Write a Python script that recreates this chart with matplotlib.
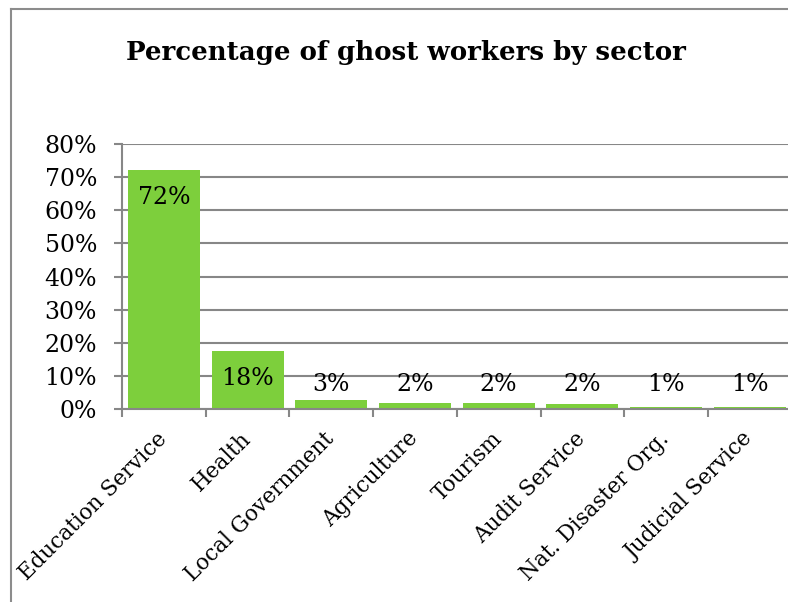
import matplotlib
matplotlib.use("Agg")
import matplotlib.pyplot as plt
from matplotlib.lines import Line2D
from matplotlib.ticker import MultipleLocator, FuncFormatter

categories = ["Education Service", "Health", "Local Government", "Agriculture",
              "Tourism", "Audit Service", "Nat. Disaster Org.", "Judicial Service"]
values = [72.2, 17.6, 2.8, 1.7, 1.7, 1.6, 0.6, 0.6]
labels = ["72%", "18%", "3%", "2%", "2%", "2%", "1%", "1%"]
title = "Percentage of ghost workers by sector"

FONT = "DejaVu Serif"
plt.rcParams["font.family"] = FONT

W, H = 788, 602
fig = plt.figure(figsize=(W / 100, H / 100), dpi=100)
ax = fig.add_axes([122 / W, 1 - 409 / H, (791.6 - 122) / W, (409 - 144) / H])

grey = "#878787"
green = "#7DCF3C"
x = list(range(len(categories)))
ax.bar(x, values, width=0.86, color=green, zorder=3)
ax.set_xlim(-0.5, len(categories) - 0.5)
ax.set_ylim(0, 80)
ax.yaxis.set_major_locator(MultipleLocator(10))
ax.yaxis.set_major_formatter(FuncFormatter(lambda v, p: f"{v:.0f}%"))
ax.grid(axis="y", color=grey, linewidth=1.5, zorder=0)
for s in ["top", "right"]:
    ax.spines[s].set_visible(False)
for s in ["left", "bottom"]:
    ax.spines[s].set_color(grey)
    ax.spines[s].set_linewidth(1.5)
    ax.spines[s].set_zorder(4)

ax.set_xticks([i - 0.5 for i in range(len(categories) + 1)], minor=False)
ax.set_xticklabels([])
ax.tick_params(axis="x", which="major", length=6, width=1.5, color=grey, direction="out")
ax.set_xticks(x, minor=True)
ax.set_xticklabels(categories, minor=True, rotation=45, ha="right", va="center",
                   rotation_mode="anchor", fontsize=15.5)
ax.tick_params(axis="x", which="minor", length=0, pad=19)
ax.tick_params(axis="y", length=6, width=1.5, color=grey, labelsize=17, pad=12)

for xi, v, lab in zip(x, values, labels):
    yc = v - 8.5 if v > 12 else 7.25
    ax.text(xi, yc, lab, ha="center", va="center", fontsize=17, zorder=5)

fig.text(405.5 / W, 1 - 60 / H, title, ha="center", va="baseline",
         fontsize=18.7, fontweight="bold")

fig.add_artist(Line2D([11 / W, 11 / W], [0, 1 - 8.5 / H], transform=fig.transFigure,
                      color="#8C8C8C", linewidth=1.5))
fig.add_artist(Line2D([11 / W, 1], [1 - 8.5 / H, 1 - 8.5 / H], transform=fig.transFigure,
                      color="#8C8C8C", linewidth=1.5))

fig.savefig("out.png", dpi=100)
